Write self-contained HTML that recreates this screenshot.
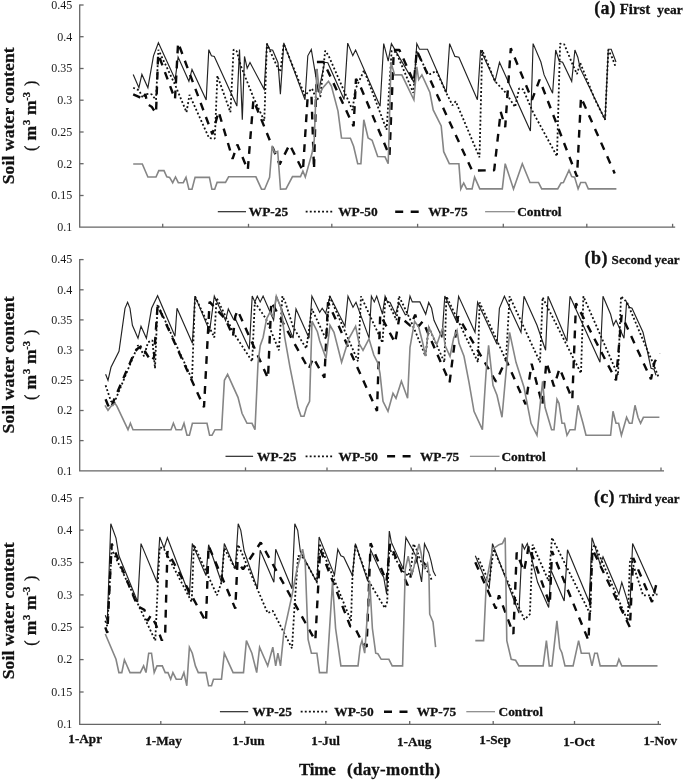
<!DOCTYPE html>
<html><head><meta charset="utf-8"><title>Soil water content</title>
<style>
html,body{margin:0;padding:0;background:#fff;}
body{width:685px;height:780px;overflow:hidden;font-family:"Liberation Serif",serif;}
svg{display:block;position:absolute;left:0;top:0;will-change:transform;}
text{font-family:"Liberation Serif",serif;fill:#111;}
.tk{font-size:12px;fill:#1a1a1a;}
.b{font-weight:bold;stroke:#111;stroke-width:0.28;}
.ax{stroke:#666;stroke-width:1.3;fill:none;}
.s25{stroke:#222;stroke-width:1.15;fill:none;stroke-linejoin:miter;}
.s50{stroke:#111;stroke-width:1.8;fill:none;stroke-dasharray:1.9 2.2;stroke-linejoin:bevel;}
.s75{stroke:#0a0a0a;stroke-width:2.4;fill:none;stroke-dasharray:7.8 7.2;stroke-linejoin:bevel;}
.sct{stroke:#858585;stroke-width:1.6;fill:none;stroke-linejoin:miter;}
</style></head><body>
<svg width="685" height="780" viewBox="0 0 685 780">
<rect width="685" height="780" fill="#fff"/>

<polyline class="s25" points="133.2,74.4 138.9,87.7 141.9,74.4 147.9,87.7 153.5,55.8 158.4,42.7 175.2,79.4 178.1,57.0 188.9,81.3 192.0,69.4 206.2,99.9 208.8,49.6 211.4,55.8 214.3,56.4 236.9,106.1 239.5,49.6 242.3,119.8 244.5,56.4 247.2,68.2 250.0,62.6 264.2,89.3 266.9,43.3 269.8,49.6 272.7,50.2 278.0,62.7 280.4,94.2 283.8,42.9 305.0,99.8 307.8,55.8 311.3,49.5 318.5,92.3 324.6,62.3 327.8,62.8 344.1,99.5 347.7,43.1 352.8,55.6 355.6,50.0 380.1,106.2 383.7,43.6 388.2,61.2 391.4,43.6 414.2,82.9 416.8,43.6 419.5,49.2 427.5,49.2 446.3,92.5 449.6,43.6 454.9,56.4 458.9,57.2 477.4,99.8 480.6,50.0 495.0,81.3 499.5,62.3 530.4,131.1 533.1,43.6 540.9,62.0 544.1,74.9 552.6,93.3 555.7,50.0 559.3,61.2 562.6,62.3 571.7,81.3 574.9,50.0 577.8,57.2 580.2,68.4 605.1,119.8 608.3,49.2 611.2,49.2 616.0,62.0"/>
<polyline class="s50" points="133.2,87.7 138.9,90.3 142.9,97.8 145.5,93.8 151.6,94.3 156.0,99.9 158.4,49.8 175.2,85.0 186.5,112.3 189.5,94.9 209.1,138.1 214.8,138.5 217.4,75.7 230.4,112.3 233.6,49.6 236.7,51.3 241.0,66.3 253.4,97.4 264.3,120.8 266.9,43.8 269.8,50.3 278.0,68.4 280.4,71.8 283.7,43.8 305.0,95.8 307.7,92.5 312.0,88.5 316.7,99.8 320.3,96.8 325.2,50.7 328.6,55.8 352.5,110.2 355.3,89.3 364.1,70.4 386.6,129.8 391.6,50.8 396.2,52.3 413.3,92.8 416.8,50.8 427.0,72.3 430.0,74.1 436.4,70.9 446.1,92.5 452.5,105.3 455.7,101.3 479.5,157.3 482.2,50.0 495.0,81.3 505.5,92.5 515.1,107.0 519.1,88.5 523.1,89.3 532.8,111.8 557.0,156.3 560.1,43.6 564.2,44.3 573.0,65.3 577.0,74.1 580.2,62.8 594.7,99.0 605.1,119.8 608.3,49.8 612.3,58.0 615.6,66.8"/>
<polyline class="s75" points="133.2,94.3 138.9,96.8 142.9,99.9 145.4,93.9 147.3,104.2 151.6,106.7 156.0,113.3 158.2,53.9 175.0,99.3 178.1,42.7 212.4,134.3 218.6,111.5 232.6,158.8 237.3,144.5 247.8,169.9 253.4,99.9 279.6,164.5 289.6,144.5 302.9,171.0 307.7,96.3 311.5,96.3 314.0,169.3 316.9,62.0 323.6,62.0 353.6,126.3 356.0,78.9 359.5,84.3 389.5,155.8 393.8,50.0 399.4,50.0 413.9,82.1 416.8,50.8 472.1,170.6 494.2,170.2 500.7,111.8 505.2,127.1 510.8,48.3 532.0,99.8 539.6,79.7 577.0,176.6 581.0,97.3 614.7,173.4"/>
<polyline class="sct" points="133.2,164.0 142.3,164.0 147.9,177.0 156.0,177.0 158.8,170.6 164.0,170.6 166.8,176.8 169.6,177.4 172.7,182.7 175.5,177.0 178.3,182.7 183.3,182.7 186.0,177.4 188.9,189.2 192.0,189.2 195.1,177.4 209.4,177.4 211.9,189.2 214.7,189.2 217.1,182.4 225.5,182.4 228.6,176.8 255.9,176.8 261.5,189.2 264.6,189.2 269.6,177.4 272.1,145.7 274.6,152.6 277.7,151.3 280.5,189.2 286.0,188.9 292.5,176.6 300.5,176.6 302.9,171.0 305.3,177.1 312.0,153.3 314.2,140.3 316.9,68.8 319.8,93.8 322.5,88.3 328.5,81.3 331.4,86.1 338.0,111.1 341.5,138.0 350.4,138.3 353.6,146.3 357.7,163.7 360.9,163.7 363.8,119.7 368.1,138.0 372.1,140.2 377.7,156.5 385.0,156.8 388.2,163.7 391.0,62.3 394.6,74.9 401.8,74.9 413.9,99.8 416.8,66.8 418.7,79.7 421.9,74.9 429.9,92.5 433.2,109.9 441.2,126.0 443.7,151.7 449.3,163.7 458.9,163.7 460.8,188.9 463.7,183.0 466.6,188.9 472.1,188.9 474.6,177.1 479.8,188.9 502.3,188.9 505.2,163.7 513.5,188.9 522.3,163.7 530.0,182.5 538.5,182.5 541.7,188.9 557.7,188.9 561.0,183.0 563.4,182.5 569.0,170.2 571.7,176.6 574.6,177.1 578.1,188.9 580.7,182.5 585.5,182.5 588.3,188.9 616.4,188.9"/>
<path class="ax" d="M79.7,4.5 V227.2 H675.2"/>
<path class="ax" d="M79.7,5.0 h3.9"/>
<text class="tk" x="72.3" y="8.8" text-anchor="end">0.45</text>
<path class="ax" d="M79.7,36.7 h3.9"/>
<text class="tk" x="72.3" y="40.5" text-anchor="end">0.4</text>
<path class="ax" d="M79.7,68.5 h3.9"/>
<text class="tk" x="72.3" y="72.3" text-anchor="end">0.35</text>
<path class="ax" d="M79.7,100.2 h3.9"/>
<text class="tk" x="72.3" y="104.0" text-anchor="end">0.3</text>
<path class="ax" d="M79.7,132.0 h3.9"/>
<text class="tk" x="72.3" y="135.8" text-anchor="end">0.25</text>
<path class="ax" d="M79.7,163.7 h3.9"/>
<text class="tk" x="72.3" y="167.5" text-anchor="end">0.2</text>
<path class="ax" d="M79.7,195.5 h3.9"/>
<text class="tk" x="72.3" y="199.3" text-anchor="end">0.15</text>
<text class="tk" x="72.3" y="231.0" text-anchor="end">0.1</text>
<path class="ax" d="M162.7,227.2 v-3.4"/>
<path class="ax" d="M248.5,227.2 v-3.4"/>
<path class="ax" d="M331.8,227.2 v-3.4"/>
<path class="ax" d="M417.6,227.2 v-3.4"/>
<path class="ax" d="M503.3,227.2 v-3.4"/>
<path class="ax" d="M586.8,227.2 v-3.4"/>
<path class="ax" d="M672.6,227.2 v-3.4"/>
<text class="b" font-size="17.6" text-anchor="middle" textLength="137" lengthAdjust="spacing" transform="translate(14.1,115.8) rotate(-90)">Soil water content</text>
<text class="b" font-size="17.6" transform="translate(35.8,115.6) rotate(-90)"><tspan x="-35.3" font-weight="normal" font-size="16">(</tspan><tspan x="-24.8">m</tspan><tspan x="-9.4" dy="-6.3" font-size="10.5">3</tspan><tspan x="0.6" dy="6.3">m</tspan><tspan x="14.9" dy="-6.3" font-size="10.5">-3</tspan><tspan x="29.6" dy="6.3" font-weight="normal" font-size="16">)</tspan></text>
<polyline class="s25" points="105.6,374.3 108.0,380.3 111.0,367.3 119.0,351.3 125.0,308.3 127.6,302.3 130.0,308.3 132.4,325.3 138.0,338.3 141.0,326.3 146.4,338.3 151.6,308.3 157.6,295.7 175.0,336.3 177.0,308.3 192.4,343.3 195.0,296.1 209.6,331.1 214.3,296.1 216.6,301.3 225.6,320.6 228.3,308.9 233.5,319.3 235.9,320.0 249.3,349.2 252.2,296.1 254.9,301.9 257.3,296.1 260.2,301.9 263.1,296.1 273.6,320.0 276.3,296.1 293.1,338.1 296.0,308.9 309.0,338.1 311.9,296.1 319.7,312.3 322.2,308.3 325.6,313.3 330.0,296.3 345.0,326.3 348.0,296.3 353.0,307.3 356.0,302.3 369.1,338.1 371.4,296.1 374.3,301.9 376.7,296.1 382.5,314.2 385.1,296.1 387.2,301.3 390.1,302.5 395.6,314.2 398.9,302.5 405.3,314.7 407.0,314.2 410.0,296.1 412.3,301.9 419.9,301.9 425.7,314.2 428.7,302.5 431.6,308.3 434.0,320.3 442.0,337.5 444.8,296.1 456.0,320.3 458.6,296.3 475.0,332.3 477.6,302.3 497.0,344.3 499.4,308.3 504.4,296.3 521.0,332.3 524.0,296.3 537.0,325.3 545.6,350.3 548.0,296.3 553.6,309.3 567.0,341.3 570.0,296.3 600.0,362.3 603.0,296.3 610.6,314.3 613.4,325.3 616.0,320.3 624.0,338.3 626.6,302.3 629.4,307.3 632.0,308.3 643.0,332.3 647.0,349.3 651.0,368.3 654.0,369.3 656.0,375.3"/>
<polyline class="s50" points="105.6,385.3 111.0,401.3 114.0,403.3 138.0,345.3 141.0,349.3 144.0,356.3 148.0,342.3 152.4,340.3 155.0,368.3 157.6,304.3 192.0,379.3 195.0,296.3 214.3,337.5 216.6,297.8 233.5,332.8 252.2,361.5 254.8,302.3 266.0,318.8 278.9,350.3 282.4,296.1 285.3,302.3 293.1,327.0 306.3,348.6 311.9,308.9 326.0,339.3 329.6,296.3 358.0,361.3 361.0,296.3 382.5,342.8 385.4,297.3 396.5,320.0 398.9,296.1 409.4,317.7 416.4,334.0 425.5,356.2 428.7,327.0 444.4,362.3 446.4,296.3 478.0,362.3 479.6,302.3 506.0,360.3 509.6,296.3 540.0,362.3 542.6,297.3 581.0,373.3 583.4,296.3 618.0,375.3 621.0,296.3 627.0,302.3 647.0,349.3 653.0,363.3 659.0,378.3"/>
<polyline class="s75" points="105.6,399.3 108.0,405.3 111.0,409.3 113.0,402.3 135.0,351.3 138.0,348.3 143.0,345.3 145.0,351.3 151.0,361.3 154.0,357.3 157.6,305.3 204.0,407.3 209.6,301.9 225.6,319.3 233.0,336.3 235.3,316.3 237.6,310.3 268.0,378.3 271.3,301.9 308.7,369.1 313.3,357.8 324.4,377.7 328.0,302.3 377.0,410.9 380.2,314.7 395.1,342.8 399.5,316.3 410.5,325.8 415.2,314.7 418.7,326.3 422.8,321.3 449.6,382.3 458.0,316.3 496.0,381.7 506.0,359.7 525.6,404.3 531.6,363.7 542.4,404.9 546.4,362.3 554.0,386.3 559.6,368.3 572.3,399.3 576.0,303.3 616.0,380.3 621.6,315.3 651.0,379.3 654.5,362.3 659.4,353.3"/>
<polyline class="sct" points="105.0,405.3 108.0,410.3 111.0,406.3 115.0,403.3 117.0,406.3 128.0,429.7 130.4,423.3 133.0,429.7 171.0,429.7 173.4,423.3 176.0,429.7 181.6,429.7 184.0,423.3 187.0,435.3 189.4,435.3 192.4,423.3 207.0,423.3 209.6,435.3 212.0,435.3 215.0,429.7 221.6,429.7 224.4,380.3 227.6,374.3 238.0,397.3 242.0,413.3 247.0,423.3 252.0,423.3 255.0,429.7 258.0,363.3 260.2,345.7 263.1,337.5 266.6,318.8 270.1,311.8 273.0,316.3 276.3,296.1 281.2,308.3 284.7,337.3 290.0,367.3 298.0,407.3 301.0,416.3 304.0,416.3 306.6,407.3 309.6,401.3 312.0,321.2 317.4,331.7 319.7,341.0 326.0,358.3 330.0,325.3 334.0,332.3 341.6,362.3 349.0,338.3 355.6,326.3 359.0,343.3 363.0,350.3 369.0,338.8 373.8,355.0 378.0,363.3 380.0,373.3 383.0,401.3 388.0,411.3 393.0,393.3 396.0,398.3 401.4,381.3 407.6,398.3 410.0,347.3 414.6,321.2 418.7,327.0 422.8,343.3 425.5,356.2 428.7,327.0 435.1,341.0 436.8,344.5 441.0,332.3 443.0,327.3 445.0,345.3 450.0,356.3 453.6,338.3 457.0,330.3 459.0,343.3 464.0,356.3 469.0,382.3 474.0,411.3 482.4,429.7 486.0,373.3 488.6,345.3 493.0,385.3 497.0,395.3 502.0,417.3 509.6,332.3 516.0,362.3 524.0,387.3 531.0,423.3 537.0,435.3 542.6,381.3 545.0,407.3 551.6,429.7 554.0,429.7 557.0,399.3 559.0,403.3 562.0,423.3 564.4,423.3 567.0,435.3 570.0,429.7 575.0,429.7 578.0,405.3 583.0,423.3 586.0,435.3 610.6,435.3 613.0,411.3 616.0,423.3 618.6,423.3 621.4,435.3 626.6,417.3 629.4,423.3 632.0,423.3 635.0,405.3 638.0,417.3 640.6,423.3 643.4,417.3 659.4,417.3"/>
<path class="ax" d="M79.7,259.1 V470.8 H664.0"/>
<path class="ax" d="M79.7,259.6 h3.9"/>
<text class="tk" x="72.3" y="263.4" text-anchor="end">0.45</text>
<path class="ax" d="M79.7,289.8 h3.9"/>
<text class="tk" x="72.3" y="293.6" text-anchor="end">0.4</text>
<path class="ax" d="M79.7,319.9 h3.9"/>
<text class="tk" x="72.3" y="323.7" text-anchor="end">0.35</text>
<path class="ax" d="M79.7,350.1 h3.9"/>
<text class="tk" x="72.3" y="353.9" text-anchor="end">0.3</text>
<path class="ax" d="M79.7,380.3 h3.9"/>
<text class="tk" x="72.3" y="384.1" text-anchor="end">0.25</text>
<path class="ax" d="M79.7,410.5 h3.9"/>
<text class="tk" x="72.3" y="414.3" text-anchor="end">0.2</text>
<path class="ax" d="M79.7,440.6 h3.9"/>
<text class="tk" x="72.3" y="444.4" text-anchor="end">0.15</text>
<text class="tk" x="72.3" y="474.6" text-anchor="end">0.1</text>
<path class="ax" d="M161.2,470.8 v-3.4"/>
<path class="ax" d="M245.5,470.8 v-3.4"/>
<path class="ax" d="M327.0,470.8 v-3.4"/>
<path class="ax" d="M411.1,470.8 v-3.4"/>
<path class="ax" d="M495.4,470.8 v-3.4"/>
<path class="ax" d="M576.8,470.8 v-3.4"/>
<path class="ax" d="M661.0,470.8 v-3.4"/>
<text class="b" font-size="17.6" text-anchor="middle" textLength="137" lengthAdjust="spacing" transform="translate(14.1,364.9) rotate(-90)">Soil water content</text>
<text class="b" font-size="17.6" transform="translate(35.8,364.7) rotate(-90)"><tspan x="-35.3" font-weight="normal" font-size="16">(</tspan><tspan x="-24.8">m</tspan><tspan x="-9.4" dy="-6.3" font-size="10.5">3</tspan><tspan x="0.6" dy="6.3">m</tspan><tspan x="14.9" dy="-6.3" font-size="10.5">-3</tspan><tspan x="29.6" dy="6.3" font-weight="normal" font-size="16">)</tspan></text>
<polyline class="s25" points="105.3,615.3 107.3,620.8 110.8,523.8 116.0,538.1 118.9,555.8 137.7,602.0 141.0,543.6 157.0,582.3 159.7,537.0 164.1,548.0 167.4,537.7 189.4,595.3 192.3,543.6 206.0,575.6 208.6,544.7 221.5,582.3 224.3,543.6 235.3,569.0 238.2,523.8 240.8,530.3 244.2,551.3 257.4,588.8 260.2,550.3 273.9,582.3 275.7,549.2 292.0,588.8 294.8,523.8 297.7,530.3 300.3,551.3 316.9,582.3 319.1,537.0 334.5,575.1 337.8,549.2 340.9,555.8 343.7,556.9 352.5,575.6 355.4,543.6 367.8,581.3 370.6,549.7 380.8,572.5 383.7,577.2 386.6,594.0 389.3,531.1 391.3,542.2 403.4,569.3 405.9,537.5 412.9,550.3 416.4,557.3 421.6,581.9 424.5,543.8 428.7,552.7 431.0,560.8 433.3,571.3 435.7,576.0"/>
<polyline class="s25" points="475.3,555.8 489.2,588.8 492.5,543.6 518.9,613.1 522.2,543.6 524.4,549.2 527.3,543.6 531.0,555.8 537.6,582.3 548.7,607.5 550.9,570.1 564.2,600.9 567.5,549.8 589.2,602.0 592.0,537.7 595.1,546.9 600.2,564.6 603.0,556.9 618.9,594.3 621.8,582.3 629.9,608.6 632.6,543.6 655.3,594.3"/>
<polyline class="s50" points="105.3,620.8 107.3,626.3 111.7,549.2 155.3,640.6 157.9,582.3 159.7,546.9 164.1,549.2 191.7,602.0 193.9,544.7 217.0,595.3 221.5,582.3 224.3,548.0 235.3,569.0 238.2,544.7 267.7,613.1 272.8,610.9 292.0,648.3 294.8,602.0 298.1,555.8 303.7,558.0 316.9,582.3 319.5,543.6 351.0,620.8 352.5,575.6 355.4,544.7 368.5,580.8 384.9,608.1 387.2,601.7 389.3,548.3 396.5,560.8 403.5,571.3 408.2,576.0 411.7,563.2 413.5,543.9 416.4,549.2 419.3,557.3 422.2,564.3 429.2,573.7 432.2,581.3"/>
<polyline class="s50" points="478.1,558.0 489.2,582.3 493.6,549.2 524.4,619.7 529.9,614.2 532.6,544.7 548.7,581.1 552.0,537.7 590.3,614.2 592.0,549.2 594.7,544.7 627.7,620.8 629.9,562.3 631.0,558.0 643.1,595.4 652.0,595.4 657.5,594.3"/>
<polyline class="s75" points="105.3,627.3 107.3,632.9 111.7,543.6 137.7,606.4 144.3,609.7 147.6,620.8 150.9,615.3 155.7,624.1 161.9,640.6 165.2,632.9 167.4,551.3 206.0,621.9 208.6,545.8 235.3,608.6 237.5,561.3 243.0,569.3 260.7,542.5 315.3,640.6 320.2,549.2 350.3,626.3 354.7,627.3 361.4,640.6 366.6,646.9 370.6,543.3 386.5,581.3 390.1,543.9 407.6,585.3 417.6,555.6 429.0,569.3"/>
<polyline class="s75" points="475.3,562.3 495.8,608.6 499.0,595.3 513.4,634.0 516.7,552.5 524.0,571.3 528.8,545.8 549.8,604.3 552.0,551.3 588.5,640.6 592.5,549.2 629.9,627.4 633.2,558.0 652.0,602.0 656.8,582.3"/>
<polyline class="sct" points="105.3,634.0 116.0,659.3 118.9,672.6 121.8,672.6 124.4,659.8 130.0,672.6 140.3,672.6 143.6,665.9 146.0,672.6 148.7,653.2 151.5,653.2 154.2,672.6 157.0,665.9 162.3,665.9 165.2,672.6 168.0,672.6 170.7,679.2 172.9,672.6 176.2,679.2 181.3,679.2 183.9,672.6 186.8,685.8 189.4,647.2 192.3,653.2 195.4,665.9 198.3,672.6 206.0,672.6 208.6,685.8 211.5,685.8 213.5,679.2 221.5,679.2 224.3,653.2 233.1,672.6 243.5,672.6 246.4,640.6 251.9,653.2 256.7,672.6 259.6,647.2 267.7,665.9 272.8,647.2 275.7,665.9 277.9,653.2 280.5,665.9 283.8,632.9 292.0,595.3 297.0,569.0 302.6,549.2 305.2,562.3 308.1,639.5 311.4,653.2 316.9,653.2 319.5,672.6 326.8,672.6 332.5,582.3 335.6,628.5 340.9,665.9 358.0,665.9 360.3,646.1 362.0,640.6 364.7,653.2 369.7,581.3 372.4,628.5 375.7,653.2 377.9,653.8 381.2,659.3 388.9,659.3 392.2,665.9 402.6,665.9 405.3,569.0 408.2,556.2 411.7,573.7 414.0,566.7 416.4,555.0 419.0,543.9 421.0,552.7 422.8,563.2 424.6,567.9 427.5,563.2 428.9,572.3 429.7,614.2 433.0,621.9 435.6,647.2"/>
<polyline class="sct" points="475.3,640.6 483.6,640.6 486.3,582.3 492.5,549.2 499.0,544.7 502.4,543.6 505.2,537.7 506.8,640.6 511.2,659.3 515.6,660.3 518.9,665.9 543.1,665.9 546.4,640.6 549.3,665.9 552.0,665.9 556.9,620.8 559.8,648.3 561.9,652.7 565.0,665.9 573.1,665.9 578.6,640.6 581.3,653.2 589.2,653.2 592.0,665.9 594.7,653.2 597.3,653.2 600.2,665.9 616.7,665.9 618.9,659.3 621.8,665.9 657.5,665.9"/>
<path class="ax" d="M79.7,497.2 V724.4 H661.0"/>
<path class="ax" d="M79.7,497.7 h3.9"/>
<text class="tk" x="72.3" y="501.5" text-anchor="end">0.45</text>
<path class="ax" d="M79.7,530.1 h3.9"/>
<text class="tk" x="72.3" y="533.9" text-anchor="end">0.4</text>
<path class="ax" d="M79.7,562.5 h3.9"/>
<text class="tk" x="72.3" y="566.3" text-anchor="end">0.35</text>
<path class="ax" d="M79.7,594.9 h3.9"/>
<text class="tk" x="72.3" y="598.7" text-anchor="end">0.3</text>
<path class="ax" d="M79.7,627.2 h3.9"/>
<text class="tk" x="72.3" y="631.0" text-anchor="end">0.25</text>
<path class="ax" d="M79.7,659.6 h3.9"/>
<text class="tk" x="72.3" y="663.4" text-anchor="end">0.2</text>
<path class="ax" d="M79.7,692.0 h3.9"/>
<text class="tk" x="72.3" y="695.8" text-anchor="end">0.15</text>
<text class="tk" x="72.3" y="728.2" text-anchor="end">0.1</text>
<path class="ax" d="M160.8,724.4 v-3.4"/>
<path class="ax" d="M244.7,724.4 v-3.4"/>
<path class="ax" d="M325.8,724.4 v-3.4"/>
<path class="ax" d="M409.7,724.4 v-3.4"/>
<path class="ax" d="M493.2,724.4 v-3.4"/>
<path class="ax" d="M574.5,724.4 v-3.4"/>
<path class="ax" d="M658.3,724.4 v-3.4"/>
<text class="b" font-size="17.6" text-anchor="middle" textLength="137" lengthAdjust="spacing" transform="translate(14.1,610.8) rotate(-90)">Soil water content</text>
<text class="b" font-size="17.6" transform="translate(35.8,610.5) rotate(-90)"><tspan x="-35.3" font-weight="normal" font-size="16">(</tspan><tspan x="-24.8">m</tspan><tspan x="-9.4" dy="-6.3" font-size="10.5">3</tspan><tspan x="0.6" dy="6.3">m</tspan><tspan x="14.9" dy="-6.3" font-size="10.5">-3</tspan><tspan x="29.6" dy="6.3" font-weight="normal" font-size="16">)</tspan></text>
<text class="b" x="594.2" y="14.2" font-size="18" textLength="21.4" lengthAdjust="spacing">(a)</text><text class="b" x="619.8" y="14.2" font-size="14.3" textLength="30.5" lengthAdjust="spacingAndGlyphs">First</text><text class="b" x="657.3" y="14.2" font-size="13.5" textLength="25.3" lengthAdjust="spacingAndGlyphs">year</text>
<text class="b" x="584.6" y="263.6" font-size="18" textLength="23" lengthAdjust="spacing">(b)</text><text class="b" x="611.6" y="263.6" font-size="13.1" textLength="67.9" lengthAdjust="spacing">Second year</text>
<text class="b" x="594.1" y="503.2" font-size="18" textLength="20.3" lengthAdjust="spacing">(c)</text><text class="b" x="619.3" y="503.2" font-size="13" textLength="60.2" lengthAdjust="spacing">Third year</text>
<path class="s25" d="M217.8,211.7 H246"/>
<text class="b" x="248.8" y="215.5" font-size="13.4">WP-25</text>
<path class="s50" d="M305.7,211.7 H333.4"/>
<text class="b" x="338.2" y="215.5" font-size="13.4">WP-50</text>
<path class="s75" style="stroke-dasharray:8 7.5" d="M395.2,211.7 H418.8"/>
<text class="b" x="428.2" y="215.5" font-size="13.4">WP-75</text>
<path class="sct" style="stroke-width:1.2" d="M485.1,211.7 H514.9"/>
<text class="b" x="517.2" y="215.5" font-size="13.4">Control</text>
<path class="s25" d="M225.5,456.3 H253.1"/>
<text class="b" x="257" y="460.7" font-size="13.4">WP-25</text>
<path class="s50" d="M305.6,456.3 H333.2"/>
<text class="b" x="338.5" y="460.7" font-size="13.4">WP-50</text>
<path class="s75" style="stroke-dasharray:8 7.5" d="M387.1,456.3 H411"/>
<text class="b" x="419.9" y="460.7" font-size="13.4">WP-75</text>
<path class="sct" style="stroke-width:1.2" d="M469.9,456.3 H499.5"/>
<text class="b" x="501.4" y="460.7" font-size="13.4">Control</text>
<path class="s25" d="M219.9,711.7 H248.2"/>
<text class="b" x="252.6" y="715.5" font-size="13.4">WP-25</text>
<path class="s50" d="M300.7,711.7 H328.5"/>
<text class="b" x="334.3" y="715.5" font-size="13.4">WP-50</text>
<path class="s75" style="stroke-dasharray:8 7.5" d="M384,711.7 H407.5"/>
<text class="b" x="416.7" y="715.5" font-size="13.4">WP-75</text>
<path class="sct" style="stroke-width:1.2" d="M466.3,711.7 H495"/>
<text class="b" x="498.5" y="715.5" font-size="13.4">Control</text>
<text class="b" x="68.3" y="742.6" font-size="13.2">1-Apr</text>
<text class="b" x="145.2" y="744.6" font-size="13.2">1-May</text>
<text class="b" x="232.4" y="744.6" font-size="13.2">1-Jun</text>
<text class="b" x="311.3" y="744.6" font-size="13.2">1-Jul</text>
<text class="b" x="396.9" y="745.8" font-size="13.2">1-Aug</text>
<text class="b" x="479.3" y="743.7" font-size="13.2">1-Sep</text>
<text class="b" x="563.2" y="746.2" font-size="13.2">1-Oct</text>
<text class="b" x="643.4" y="744.5" font-size="13.2">1-Nov</text>
<text class="b" x="298.9" y="775" font-size="17" textLength="36.8" lengthAdjust="spacing">Time</text><text class="b" x="347" y="775" font-size="17" textLength="93.2" lengthAdjust="spacing">(day-month)</text>
</svg></body></html>
